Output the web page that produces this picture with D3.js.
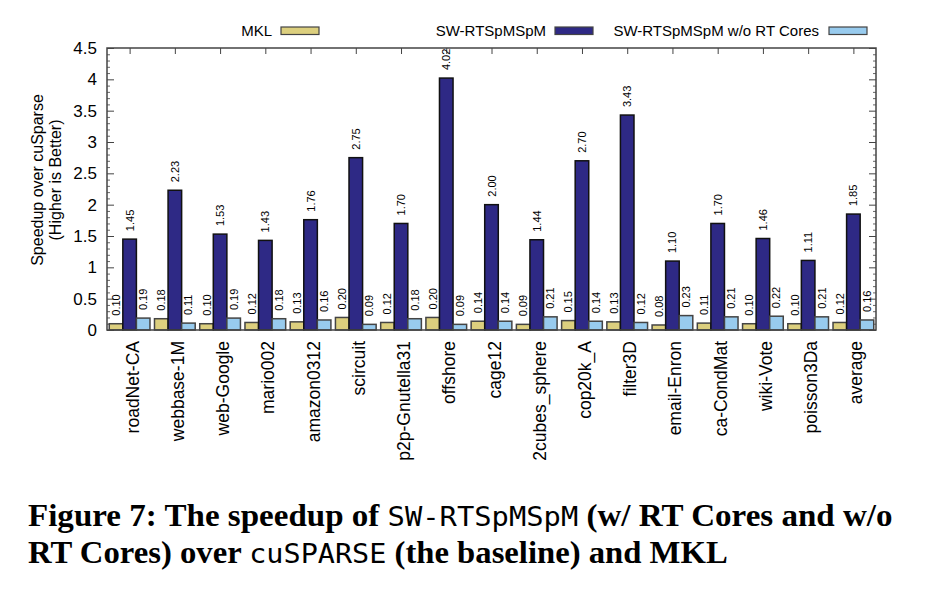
<!DOCTYPE html>
<html>
<head>
<meta charset="utf-8">
<script src="https://cdn.jsdelivr.net/npm/d3@7"></script>
<style>
  body { margin: 0; background: #fff; }
  svg { display: block; }
  text { font-family: "Liberation Sans", Arial, sans-serif; }
</style>
</head>
<body>
<div id="chart"></div>
<script>
// Data
var categories = ["roadNet-CA", "webbase-1M", "web-Google", "mario002", "amazon0312",
  "scircuit", "p2p-Gnutella31", "offshore", "cage12", "2cubes_sphere", "cop20k_A",
  "filter3D", "email-Enron", "ca-CondMat", "wiki-Vote", "poisson3Da", "average"];
var mklValues  = [0.10, 0.18, 0.10, 0.12, 0.13, 0.20, 0.12, 0.20, 0.14, 0.09, 0.15, 0.13, 0.08, 0.11, 0.10, 0.10, 0.12];
var swValues   = [1.45, 2.23, 1.53, 1.43, 1.76, 2.75, 1.70, 4.02, 2.00, 1.44, 2.70, 3.43, 1.10, 1.70, 1.46, 1.11, 1.85];
var noRtValues = [0.19, 0.11, 0.19, 0.18, 0.16, 0.09, 0.18, 0.09, 0.14, 0.21, 0.14, 0.12, 0.23, 0.21, 0.22, 0.21, 0.16];
var seriesNames = ["MKL", "SW-RTSpMSpM", "SW-RTSpMSpM w/o RT Cores"];
var yTicks = [0, 0.5, 1, 1.5, 2, 2.5, 3, 3.5, 4, 4.5];

var colors = ["#dccf7e", "#2e2985", "#98cbee"];
var series = [mklValues, swValues, noRtValues];

var svgWidth = 950, svgHeight = 596;
var plot = { left: 107, right: 876, top: 48, bottom: 330 };

var svg = d3.select("#chart").append("svg")
  .attr("width", svgWidth)
  .attr("height", svgHeight);

// scales: one unit per category, bars 0.3 wide
var x = d3.scaleLinear().domain([-0.5, categories.length - 0.5]).range([plot.left, plot.right]);
var y = d3.scaleLinear().domain([0, 4.5]).range([plot.bottom, plot.top]);
var barW = 0.3;

// minor y ticks every 0.1
var minorTicks = d3.range(0, 46).map(d => d / 10).filter(d => Math.round(d * 10) % 5 !== 0);

// left axis with inward ticks
var yAxis = d3.axisLeft(y).tickValues(yTicks).tickSizeInner(-7).tickSizeOuter(0)
  .tickPadding(10).tickFormat(d => String(d));
var gy = svg.append("g").attr("transform", `translate(${plot.left},0)`).call(yAxis);
gy.select(".domain").remove();
gy.selectAll("text").attr("font-size", "17px").attr("fill", "#000")
  .style("font-family", "'Liberation Sans', Arial, sans-serif");
gy.selectAll("line").attr("stroke", "#444");

svg.append("g").attr("transform", `translate(${plot.left},0)`)
  .call(d3.axisLeft(y).tickValues(minorTicks).tickSize(-3).tickFormat(""))
  .call(g => g.select(".domain").remove())
  .selectAll("line").attr("stroke", "#666");

// mirrored right ticks
svg.append("g").attr("transform", `translate(${plot.right},0)`)
  .call(d3.axisRight(y).tickValues(yTicks).tickSize(-7).tickFormat(""))
  .call(g => g.select(".domain").remove())
  .selectAll("line").attr("stroke", "#444");
svg.append("g").attr("transform", `translate(${plot.right},0)`)
  .call(d3.axisRight(y).tickValues(minorTicks).tickSize(-3).tickFormat(""))
  .call(g => g.select(".domain").remove())
  .selectAll("line").attr("stroke", "#666");

// top ticks at group centres
svg.append("g").attr("transform", `translate(0,${plot.top})`)
  .call(d3.axisTop(x).tickValues(d3.range(categories.length)).tickSize(-6).tickFormat(""))
  .call(g => g.select(".domain").remove())
  .selectAll("line").attr("stroke", "#444");

// bars
series.forEach(function(vals, k) {
  var g = svg.append("g");
  g.selectAll("rect")
    .data(vals)
    .enter()
    .append("rect")
    .attr("x", (d, i) => x(i + (k - 1) * barW - barW / 2))
    .attr("width", x(barW) - x(0))
    .attr("y", d => y(d))
    .attr("height", d => y(0) - y(d))
    .attr("fill", colors[k])
    .attr("stroke", k === 1 ? "#111" : "#444")
    .attr("stroke-width", 1.5);

  // value labels above each bar
  g.selectAll("text")
    .data(vals)
    .enter()
    .append("text")
    .attr("transform", (d, i) => `translate(${x(i + (k - 1) * barW) + 4},${y(d) - 8}) rotate(-90)`)
    .attr("font-size", "11px")
    .attr("fill", "#000")
    .text(d => d3.format(".2f")(d));
});

// frame
svg.append("rect")
  .attr("x", plot.left).attr("y", plot.top)
  .attr("width", plot.right - plot.left).attr("height", plot.bottom - plot.top)
  .attr("fill", "none").attr("stroke", "#444").attr("stroke-width", 1.5);

// x category labels
svg.append("g").selectAll("text")
  .data(categories)
  .enter()
  .append("text")
  .attr("transform", (d, i) => `translate(${x(i) + 9},${plot.bottom + 11}) rotate(-90)`)
  .attr("text-anchor", "end")
  .attr("font-size", "17.5px")
  .attr("fill", "#000")
  .text(d => d);

// y axis title
var yTitle = svg.append("text")
  .attr("transform", `translate(43,180) rotate(-90)`)
  .attr("text-anchor", "middle")
  .attr("font-size", "16px")
  .attr("fill", "#000");
yTitle.append("tspan").attr("x", 0).attr("y", 0).text("Speedup over cuSparse");
yTitle.append("tspan").attr("x", 0).attr("y", 17.5).text("(Higher is Better)");

// legend: text right-aligned before each swatch
var legendTextEnd = [272, 546, 819];
var legendSwatchX = [281, 555, 829];
var legend = svg.append("g");
seriesNames.forEach(function(name, k) {
  legend.append("text")
    .attr("x", legendTextEnd[k]).attr("y", 36)
    .attr("text-anchor", "end")
    .attr("font-size", "15px")
    .attr("fill", "#000")
    .text(name);
  legend.append("rect")
    .attr("x", legendSwatchX[k]).attr("y", 27)
    .attr("width", 38).attr("height", 7.5)
    .attr("fill", colors[k])
    .attr("stroke", "#444").attr("stroke-width", 1.2);
});

// caption, two lines with monospace code names
var capLines = [
  { y: 526, width: 865, parts: [["Figure 7: The speedup of ", 0], ["SW-RTSpMSpM", 1], [" (w/ RT Cores and w/o", 0]] },
  { y: 563, width: 700, parts: [["RT Cores) over ", 0], ["cuSPARSE", 1], [" (the baseline) and MKL", 0]] }
];
capLines.forEach(function(line) {
  var t = svg.append("text")
    .attr("x", 0).attr("y", 0)
    .attr("font-size", "31px")
    .attr("fill", "#000");
  line.parts.forEach(function(p) {
    t.append("tspan")
      .style("font-family", p[1] ? "'DejaVu Sans Mono', monospace" : "'Liberation Serif', serif")
      .attr("font-weight", p[1] ? "normal" : "bold")
      .attr("font-size", p[1] ? "27px" : "31px")
      .text(p[0]);
  });
  var w = t.node().getComputedTextLength();
  t.attr("transform", `translate(28,${line.y}) scale(${line.width / w},1)`);
});
</script>
</body>
</html>
